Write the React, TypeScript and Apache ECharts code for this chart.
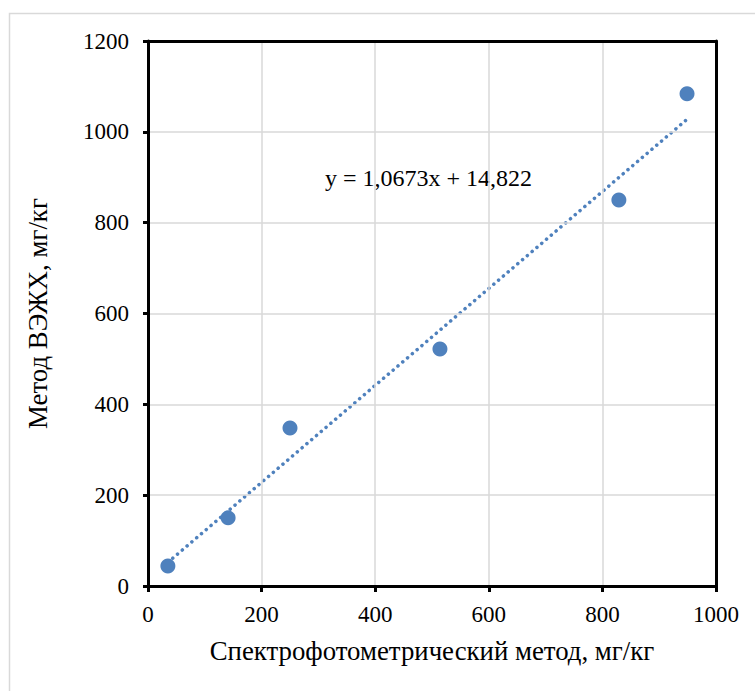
import React, { useEffect, useRef } from "react";
import * as echarts from "echarts";

const xValues = [35, 141, 250, 514, 829, 949];
const yValues = [44, 150, 348, 522, 850, 1084];
const trendSlope = 1.0673;
const trendIntercept = 14.822;
const equationLabel = "y = 1,0673x + 14,822";
const xAxisTitle = "Спектрофотометрический метод, мг/кг";
const yAxisTitle = "Метод ВЭЖХ, мг/кг";

const BLUE = "#4f81bd";
const FONT = "Liberation Serif";

const frameAxis = {
  type: "value",
  axisLine: { show: true, onZero: false, lineStyle: { color: "#000", width: 3 } },
  axisTick: { show: false },
  axisLabel: { show: false },
  splitLine: { show: false },
};

export default function App() {
  const ref = useRef<HTMLDivElement>(null);
  useEffect(() => {
    if (!ref.current) return;
    const chart = echarts.init(ref.current, null, { renderer: "svg" });
    const points = xValues.map((x, i) => [x, yValues[i]]);
    const xMin = Math.min(...xValues);
    const xMax = Math.max(...xValues);
    const trend = [
      [xMin, trendSlope * xMin + trendIntercept],
      [xMax, trendSlope * xMax + trendIntercept],
    ];
    chart.setOption({
      animation: false,
      backgroundColor: "#fff",
      textStyle: { fontFamily: FONT },
      grid: {
        left: 148,
        right: 39,
        top: 41,
        bottom: 105,
      },
      xAxis: [
        {
          type: "value",
          min: 0,
          max: 1000,
          interval: 200,
          name: xAxisTitle,
          nameLocation: "middle",
          nameGap: 51,
          nameTextStyle: { fontFamily: FONT, fontSize: 26.8, color: "#000" },
          axisLine: { show: true, onZero: false, lineStyle: { color: "#000", width: 3 } },
          axisTick: { show: true, length: 6, lineStyle: { color: "#000", width: 3 } },
          axisLabel: {
            fontFamily: FONT,
            fontSize: 23,
            color: "#000",
            margin: 17,
            formatter: (v: number) => String(v),
          },
          splitLine: { show: true, lineStyle: { color: "#d9d9d9", width: 1.5 } },
          z: 5,
        },
        { ...frameAxis, position: "top", min: 0, max: 1000, z: 5 },
      ],
      yAxis: [
        {
          type: "value",
          min: 0,
          max: 1200,
          interval: 200,
          name: yAxisTitle,
          nameLocation: "middle",
          nameGap: 97,
          nameTextStyle: { fontFamily: FONT, fontSize: 26.8, color: "#000" },
          axisLine: { show: true, onZero: false, lineStyle: { color: "#000", width: 3 } },
          axisTick: { show: true, length: 5, lineStyle: { color: "#000", width: 3 } },
          axisLabel: {
            fontFamily: FONT,
            fontSize: 23,
            color: "#000",
            margin: 19,
            formatter: (v: number) => String(v),
          },
          splitLine: { show: true, lineStyle: { color: "#d9d9d9", width: 1.5 } },
          z: 5,
        },
        { ...frameAxis, position: "right", min: 0, max: 1200, z: 5 },
      ],
      graphic: [
        {
          type: "rect",
          left: 7,
          top: 11,
          shape: { x: 0, y: 0, width: 760, height: 700 },
          style: { fill: "none", stroke: "#d9d9d9", lineWidth: 1.5 },
          silent: true,
        },
        {
          type: "text",
          left: 325,
          top: 166,
          style: {
            text: equationLabel,
            fontFamily: FONT,
            fontSize: 24,
            fill: "#000",
          },
        },
      ],
      series: [
        {
          type: "line",
          data: trend,
          symbol: "none",
          lineStyle: { color: BLUE, width: 3.5, type: [0.1, 6.2], cap: "round" },
          z: 2,
        },
        {
          type: "scatter",
          data: points,
          symbol: "circle",
          symbolSize: 15,
          itemStyle: { color: BLUE, opacity: 1 },
          z: 3,
        },
      ],
    });
    return () => chart.dispose();
  }, []);
  return (
    <div
      ref={ref}
      style={{ position: "absolute", left: 0, top: 0, width: 755, height: 691 }}
    />
  );
}
